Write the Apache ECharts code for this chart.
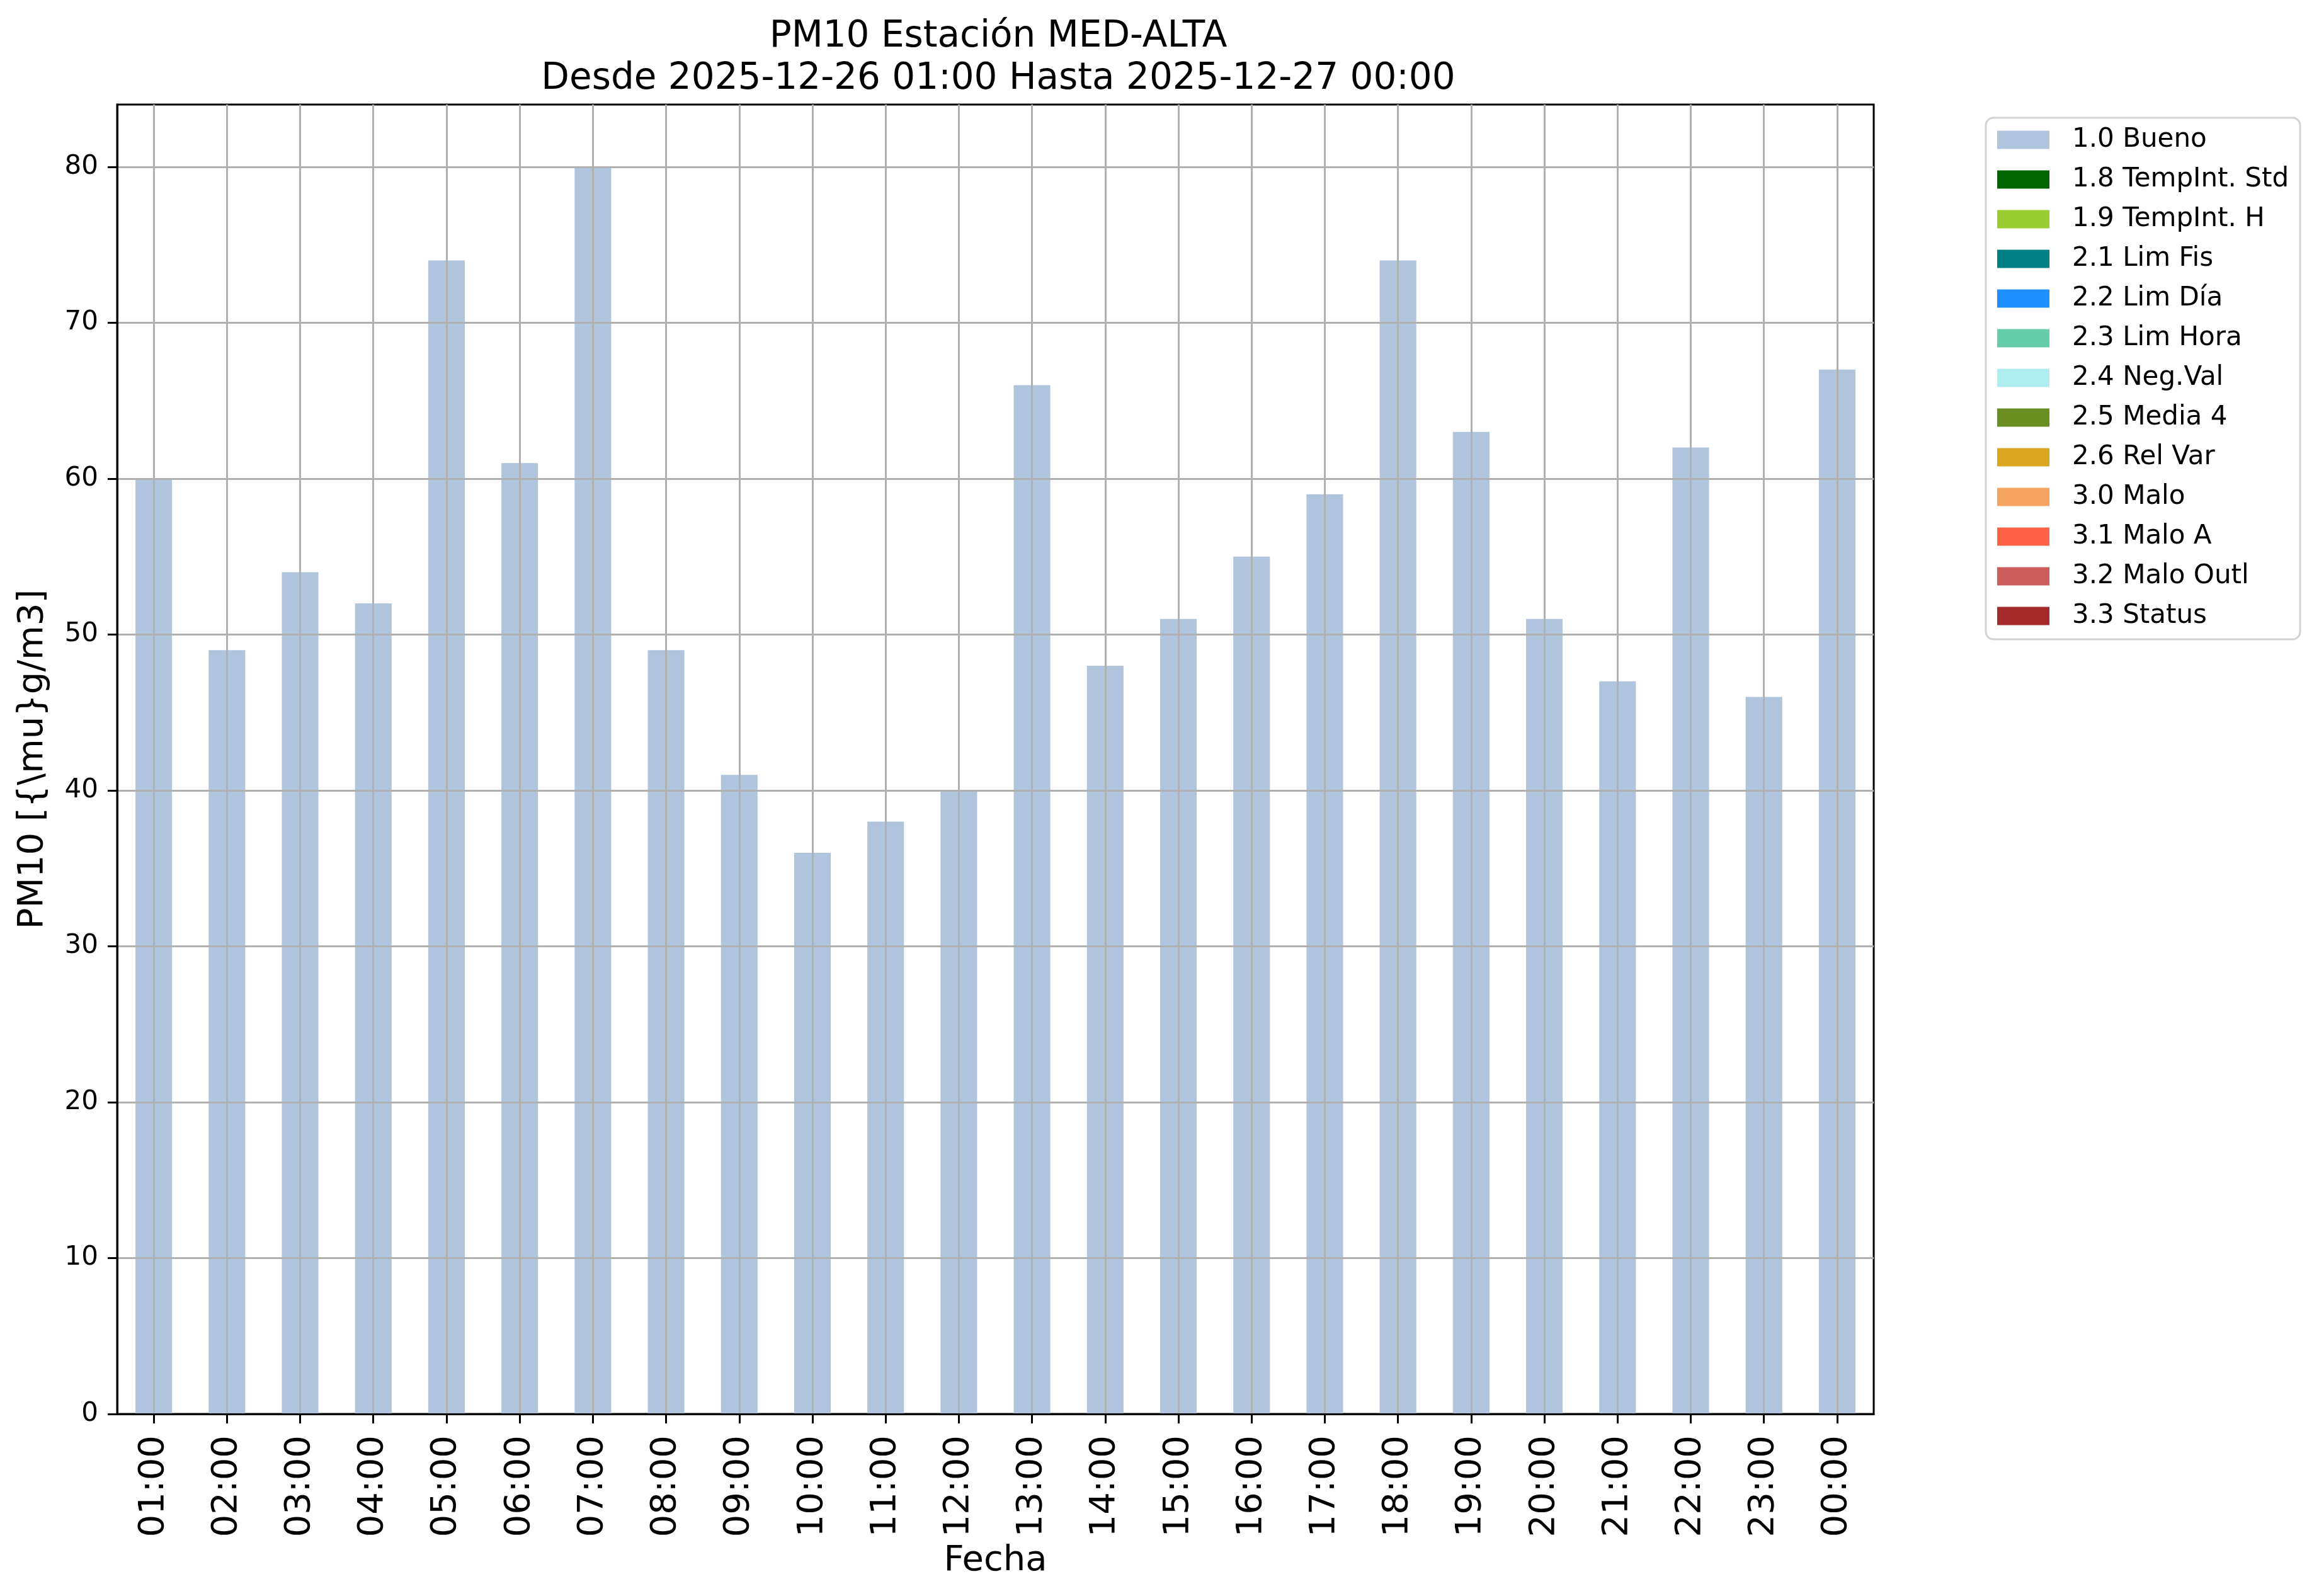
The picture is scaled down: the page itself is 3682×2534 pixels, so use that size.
<!DOCTYPE html>
<html>
<head>
<meta charset="utf-8">
<script src="https://cdn.jsdelivr.net/npm/echarts@6/dist/echarts.min.js"></script>
<style>
html,body{margin:0;padding:0;background:#fff;}
#chart{width:3682px;height:2534px;}
</style>
</head>
<body>
<div id="chart"></div>
<script>
const categories = ['01:00','02:00','03:00','04:00','05:00','06:00','07:00','08:00','09:00','10:00','11:00','12:00','13:00','14:00','15:00','16:00','17:00','18:00','19:00','20:00','21:00','22:00','23:00','00:00'];
const buenoValues = [60,49,54,52,74,61,80,49,41,36,38,40,66,48,51,55,59,74,63,51,47,62,46,67];
const flagNames = ['1.0 Bueno','1.8 TempInt. Std','1.9 TempInt. H','2.1 Lim Fis','2.2 Lim Día','2.3 Lim Hora','2.4 Neg.Val','2.5 Media 4','2.6 Rel Var','3.0 Malo','3.1 Malo A','3.2 Malo Outl','3.3 Status'];
const flagColors = ['#B0C4DE','#006400','#9ACD32','#008080','#1E90FF','#66CDAA','#AFEEEE','#6B8E23','#DAA520','#F4A460','#FF6347','#CD5C5C','#A52A2A'];
const yTicks = [0,10,20,30,40,50,60,70,80];
const titleText = 'PM10 Estación MED-ALTA\nDesde 2025-12-26 01:00 Hasta 2025-12-27 00:00';
const yName = 'PM10 [{\\mu}g/m3]';
const xName = 'Fecha';

const FONT = 'DejaVu Sans';
const chart = echarts.init(document.getElementById('chart'), null, {renderer:'canvas'});

const series = flagNames.map((name, i) => ({
  name: name,
  type: 'bar',
  stack: 'total',
  barWidth: '50%',
  itemStyle: {color: flagColors[i]},
  data: i === 0 ? buenoValues : [],
  z: 2
}));

chart.setOption({
  animation: false,
  backgroundColor: '#ffffff',
  textStyle: {fontFamily: FONT},
  title: {
    text: titleText,
    left: 1580,
    top: 20,
    textAlign: 'center',
    textStyle: {fontFamily: FONT, fontSize: 58, fontWeight: 'normal', color: '#000', lineHeight: 67}
  },
  grid: {
    left: 186, top: 166, width: 2789, height: 2079,
    show: true, borderColor: '#000', borderWidth: 3, backgroundColor: 'transparent',
    containLabel: false,
    outerBoundsMode: 'none'
  },
  legend: {
    orient: 'vertical',
    left: 3153, top: 187,
    padding: [14, 18, 16, 18],
    itemWidth: 83, itemHeight: 29, itemGap: 21,
    icon: 'rect',
    backgroundColor: '#fff',
    borderColor: '#d4d4d4', borderWidth: 3, borderRadius: 12,
    textStyle: {fontFamily: FONT, fontSize: 42, color: '#000', padding: [0, 0, 0, 31]},
    data: flagNames
  },
  xAxis: {
    type: 'category',
    data: categories,
    z: 5,
    name: xName,
    nameLocation: 'middle',
    nameGap: 205,
    nameTextStyle: {fontFamily: FONT, fontSize: 56, color: '#000'},
    axisLine: {show: true, lineStyle: {color: '#000', width: 3}},
    axisTick: {show: true, alignWithLabel: true, interval: 0, length: 15, lineStyle: {color: '#000', width: 3}},
    axisLabel: {interval: 0, rotate: 90, margin: 34, fontFamily: FONT, fontSize: 56, color: '#000'},
    splitLine: {show: true, alignWithLabel: true, interval: 0, lineStyle: {color: '#b0b0b0', width: 3}}
  },
  yAxis: {
    type: 'value',
    min: 0, max: 84, interval: 10,
    z: 5,
    name: yName,
    nameLocation: 'middle',
    nameRotate: 90,
    nameGap: 106,
    nameTextStyle: {fontFamily: FONT, fontSize: 56, color: '#000'},
    axisLine: {show: true, lineStyle: {color: '#000', width: 3}},
    axisTick: {show: true, length: 15, customValues: yTicks, lineStyle: {color: '#000', width: 3}},
    axisLabel: {margin: 30, fontFamily: FONT, fontSize: 42, color: '#000', customValues: yTicks},
    splitLine: {show: true, lineStyle: {color: '#b0b0b0', width: 3}}
  },
  series: series
});
</script>
</body>
</html>
